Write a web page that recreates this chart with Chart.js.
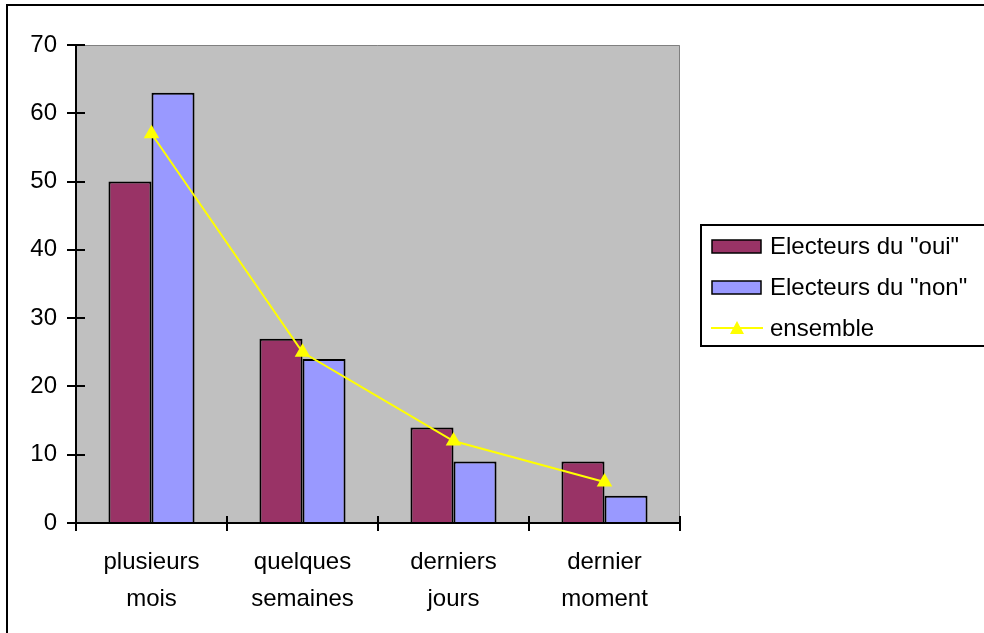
<!DOCTYPE html>
<html>
<head>
<meta charset="utf-8">
<script src="https://cdn.jsdelivr.net/npm/chart.js@4"></script>
<style>
  html, body { margin: 0; padding: 0; background: #fff; }
  #wrap { width: 984px; height: 633px; position: relative; }
</style>
</head>
<body>
<div id="wrap"><canvas id="voteChart"></canvas></div>
<script>
// chart values
const categories = [['plusieurs', 'mois'], ['quelques', 'semaines'], ['derniers', 'jours'], ['dernier', 'moment']];
const votersYes = [50, 27, 14, 9];
const votersNo = [63, 24, 9, 4];
const overall = [57, 25, 12, 6];
const yTicks = [0, 10, 20, 30, 40, 50, 60, 70];
const seriesNames = ['Electeurs du "oui"', 'Electeurs du "non"', 'ensemble'];

const FONT = '"Liberation Sans", Arial, sans-serif';

// Frame, plot background, axes with crossing ticks
const framePlugin = {
    id: 'frame',
    beforeDraw(chart) {
        const { ctx, chartArea: a } = chart;
        ctx.save();
        ctx.fillStyle = '#fff';
        ctx.fillRect(0, 0, chart.width, chart.height);
        // outer frame (top + left only visible)
        ctx.strokeStyle = '#000';
        ctx.lineWidth = 2;
        ctx.beginPath();
        ctx.moveTo(7, chart.height + 2);
        ctx.lineTo(7, 5);
        ctx.lineTo(chart.width + 2, 5);
        ctx.stroke();
        // plot area
        ctx.fillStyle = '#c0c0c0';
        ctx.fillRect(a.left, a.top, a.right - a.left, a.bottom - a.top);
        ctx.strokeStyle = '#808080';
        ctx.lineWidth = 1;
        ctx.beginPath();
        ctx.moveTo(a.left, a.top + 0.5);
        ctx.lineTo(a.right - 0.5, a.top + 0.5);
        ctx.lineTo(a.right - 0.5, a.bottom);
        ctx.stroke();
        ctx.restore();
    },
    afterDatasetsDraw(chart) {
        const { ctx, chartArea: a, scales } = chart;
        ctx.save();
        ctx.strokeStyle = '#000';
        ctx.lineWidth = 2;
        ctx.beginPath();
        // y axis
        ctx.moveTo(a.left, a.top);
        ctx.lineTo(a.left, a.bottom + 1);
        yTicks.forEach(v => {
            const y = Math.round(scales.y.getPixelForValue(v));
            ctx.moveTo(a.left - 9, y);
            ctx.lineTo(a.left + 9, y);
        });
        // x axis
        ctx.moveTo(a.left, a.bottom);
        ctx.lineTo(a.right, a.bottom);
        const step = (a.right - a.left) / categories.length;
        for (let i = 0; i <= categories.length; i++) {
            const x = Math.round(a.left + i * step);
            ctx.moveTo(x, a.bottom - 7);
            ctx.lineTo(x, a.bottom + 8);
        }
        ctx.stroke();
        ctx.restore();
    }
};

// Legend box drawn like the reference
const legendPlugin = {
    id: 'boxLegend',
    afterDraw(chart) {
        const { ctx } = chart;
        const ds = chart.data.datasets;
        ctx.save();
        ctx.strokeStyle = '#000';
        ctx.lineWidth = 2;
        ctx.strokeRect(701, 225, 300, 121);
        ctx.font = '24px ' + FONT;
        ctx.textBaseline = 'middle';
        ctx.textAlign = 'left';
        const rows = [246, 287, 328];
        ds.forEach((d, i) => {
            const y = rows[i];
            if (d.type === 'line') {
                ctx.strokeStyle = d.borderColor;
                ctx.lineWidth = 2;
                ctx.beginPath();
                ctx.moveTo(711, y);
                ctx.lineTo(763, y);
                ctx.stroke();
                ctx.fillStyle = d.borderColor;
                ctx.beginPath();
                ctx.moveTo(737, y - 7);
                ctx.lineTo(744, y + 6);
                ctx.lineTo(730, y + 6);
                ctx.closePath();
                ctx.fill();
            } else {
                ctx.fillStyle = d.backgroundColor;
                ctx.fillRect(712, y - 6, 49, 13);
                ctx.strokeStyle = '#000';
                ctx.lineWidth = 1.5;
                ctx.strokeRect(712, y - 6, 49, 13);
            }
            ctx.fillStyle = '#000';
            ctx.fillText(d.label, 770, y + 1);
        });
        ctx.restore();
    }
};

const ctx = document.getElementById('voteChart');
new Chart(ctx, {
    type: 'bar',
    data: {
        labels: categories,
        datasets: [
            { label: seriesNames[0], data: votersYes, backgroundColor: '#993366', borderColor: '#000', borderWidth: 2, order: 1 },
            { label: seriesNames[1], data: votersNo, backgroundColor: '#9999ff', borderColor: '#000', borderWidth: 2, order: 1 },
            { type: 'line', label: seriesNames[2], data: overall, borderColor: '#ffff00', backgroundColor: '#ffff00',
              borderWidth: 2, pointStyle: 'triangle', pointRadius: 9, pointBackgroundColor: '#ffff00',
              pointBorderColor: '#ffff00', pointBorderWidth: 0, tension: 0, order: 0 }
        ]
    },
    options: {
        responsive: true,
        maintainAspectRatio: false,
        animation: false,
        events: [],
        layout: { padding: { top: 45, right: 304, left: 0, bottom: 0 } },
        datasets: { bar: { categoryPercentage: 0.57, barPercentage: 1 } },
        plugins: { legend: { display: false }, tooltip: { enabled: false } },
        scales: {
            x: {
                grid: { display: false, drawTicks: false },
                border: { display: false },
                ticks: { color: '#000', padding: 21, maxRotation: 0, font: { family: FONT, size: 24, lineHeight: 1.55 } },
                afterFit(s) { s.height = 110; }
            },
            y: {
                min: 0, max: 70,
                grid: { display: false, drawTicks: false },
                border: { display: false },
                ticks: { stepSize: 10, color: '#000', padding: 19, font: { family: FONT, size: 24 } },
                afterFit(s) { s.width = 76; }
            }
        }
    },
    plugins: [framePlugin, legendPlugin]
});
</script>
</body>
</html>
